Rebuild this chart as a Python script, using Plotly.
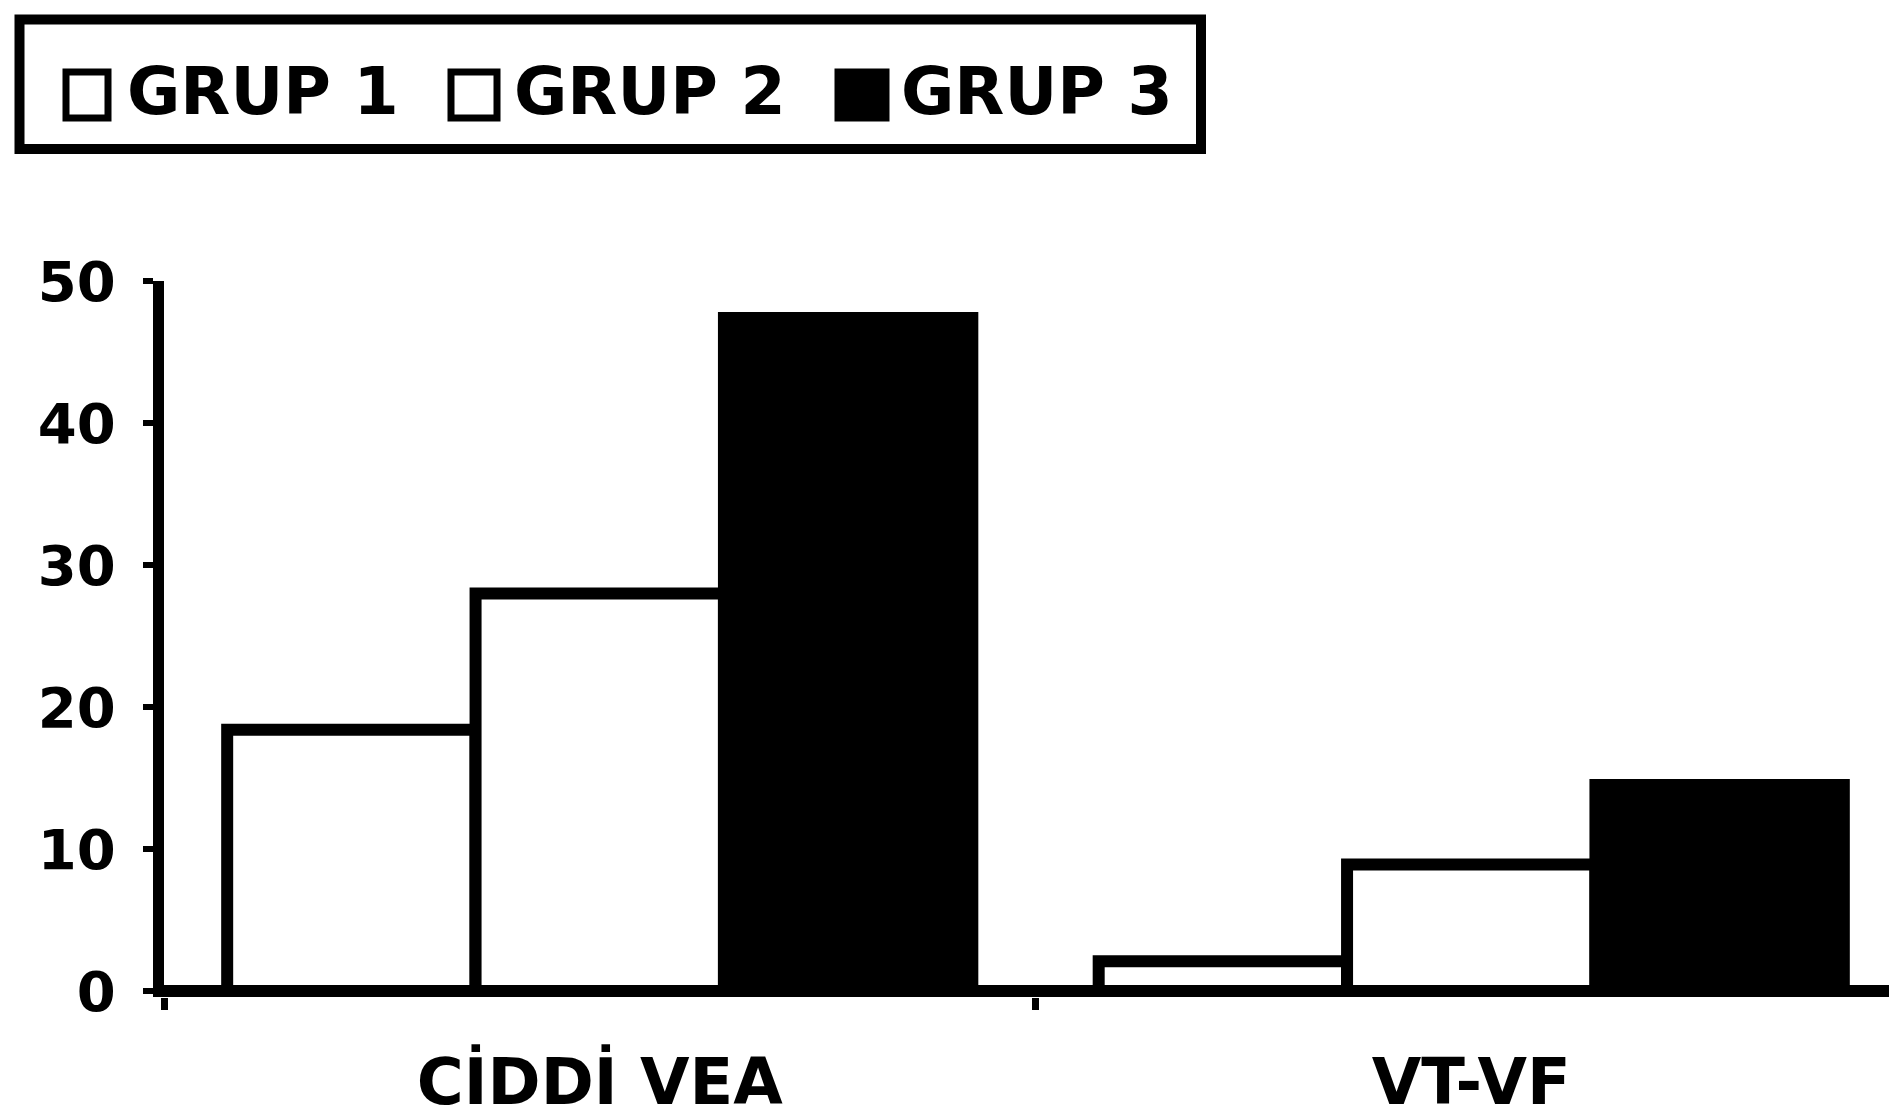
import plotly.graph_objects as go

categories = ["CİDDİ VEA", "VT-VF"]
series_names = ["GRUP 1", "GRUP 2", "GRUP 3"]
grup1 = [18.4, 2.1]
grup2 = [28.0, 8.9]
grup3 = [47.4, 14.5]
y_ticks = [0, 10, 20, 30, 40, 50]

# the page body adds an 8px margin, so the figure is drawn 8px smaller
OFF = 8
W, H = 1897 - OFF, 1120 - OFF
L, R, T, B = 164 - OFF, 0, 281 - OFF, 123
FONT = "DejaVu Sans"
CAT_PX = 871.5

fills = ["white", "white", "black"]
fig = go.Figure()
for name, vals, fc in zip(series_names, [grup1, grup2, grup3], fills):
    fig.add_trace(go.Bar(
        x=categories, y=vals, name=name,
        marker=dict(color=fc, line=dict(color="black", width=12)),
        showlegend=False,
    ))

pw = W - L - R
ph = H - T - B
def px(x):
    return (x - OFF - L) / pw
def py(y):
    return (H - B - (y - OFF)) / ph

shapes = []
annotations = []
# legend frame
shapes.append(dict(type="rect", xref="paper", yref="paper",
                   x0=px(19.5), x1=px(1201), y0=py(19.5), y1=py(149),
                   line=dict(color="black", width=10), fillcolor="white", layer="above"))
leg_sq = [(66, 108), (451, 497), (838, 886)]
leg_tx = [125, 512, 899]
for (a, b), tx, name, fc in zip(leg_sq, leg_tx, series_names, fills):
    shapes.append(dict(type="rect", xref="paper", yref="paper",
                       x0=px(a), x1=px(b), y0=py(72), y1=py(118),
                       line=dict(color="black", width=7), fillcolor=fc, layer="above"))
    annotations.append(dict(text=name, xref="paper", yref="paper",
                            x=px(tx), y=py(91), xanchor="left", yanchor="middle",
                            showarrow=False,
                            font=dict(family=FONT, size=65, color="black", weight="bold")))

fig.update_layout(
    width=W, height=H,
    margin=dict(l=L, r=R, t=T, b=B, pad=0),
    paper_bgcolor="white", plot_bgcolor="white",
    barmode="group", bargap=0.145, bargroupgap=0,
    shapes=shapes, annotations=annotations,
    showlegend=False,
)
y0 = -6.0 / 14.2
fig.update_xaxes(
    type="category", range=[-0.5, -0.5 + pw / CAT_PX],
    automargin=False,
    showgrid=False, zeroline=False, showline=False,
    ticks="outside", tickson="boundaries", ticklen=12, tickwidth=7, tickcolor="black",
    ticklabelstandoff=42,
    tickfont=dict(family=FONT, size=64, color="black", weight="bold"),
)
fig.update_yaxes(
    range=[y0, 50], tickvals=y_ticks, ticktext=[str(v) for v in y_ticks],
    automargin=False,
    showgrid=False,
    zeroline=True, zerolinecolor="black", zerolinewidth=12,
    showline=True, linecolor="black", linewidth=11,
    ticks="outside", ticklen=10, tickwidth=6, tickcolor="black",
    ticklabelstandoff=16,
    tickfont=dict(family=FONT, size=56, color="black", weight="bold"),
)

fig.write_html("out.html")
